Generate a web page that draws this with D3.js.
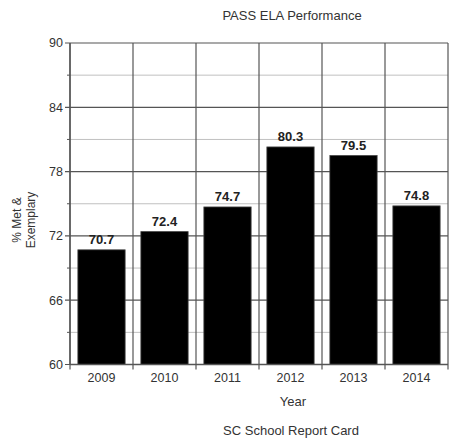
<!DOCTYPE html>
<html>
<head>
<meta charset="utf-8">
<script src="https://cdn.jsdelivr.net/npm/d3@7"></script>
<style>
	body { margin: 0; background: #fff; }
	text { font-family: "Liberation Sans", Arial, sans-serif; }
</style>
</head>
<body>
<script>
const years = ["2009", "2010", "2011", "2012", "2013", "2014"];
const scores = [70.7, 72.4, 74.7, 80.3, 79.5, 74.8];
const yTicks = [60, 66, 72, 78, 84, 90];
const yMinor = [63, 69, 75, 81, 87];

const svg = d3.select("body").append("svg")
	.attr("width", 449)
	.attr("height", 442);

const plotLeft = 70, plotRight = 448, plotTop = 43, plotBottom = 364.5;

const x = d3.scaleBand()
	.domain(years)
	.range([plotLeft, plotRight])
	.paddingInner(0.25)
	.paddingOuter(0.125);

const y = d3.scaleLinear()
	.domain([60, 90])
	.range([plotBottom, plotTop]);

const step = x.step();
const bounds = d3.range(years.length + 1).map(i => plotLeft + i * step);

// minor horizontal grid
svg.append("g").selectAll("line")
	.data(yMinor)
	.join("line")
	.attr("x1", plotLeft).attr("x2", plotRight)
	.attr("y1", d => y(d)).attr("y2", d => y(d))
	.attr("stroke", "#c0c0c0")
	.attr("stroke-width", 1);

// major horizontal grid
svg.append("g").selectAll("line")
	.data(yTicks)
	.join("line")
	.attr("x1", plotLeft - 5).attr("x2", plotRight)
	.attr("y1", d => y(d)).attr("y2", d => y(d))
	.attr("stroke", "#555")
	.attr("stroke-width", 1.2);

// minor ticks on y axis
svg.append("g").selectAll("line")
	.data(yMinor)
	.join("line")
	.attr("x1", plotLeft - 3).attr("x2", plotLeft)
	.attr("y1", d => y(d)).attr("y2", d => y(d))
	.attr("stroke", "#555");

// vertical grid at band boundaries
svg.append("g").selectAll("line")
	.data(bounds)
	.join("line")
	.attr("x1", d => d).attr("x2", d => d)
	.attr("y1", plotTop).attr("y2", plotBottom + 5)
	.attr("stroke", "#555")
	.attr("stroke-width", 1.2);

// bars
svg.append("g").selectAll("rect")
	.data(years)
	.join("rect")
	.attr("x", d => x(d))
	.attr("y", (d, i) => y(scores[i]))
	.attr("width", x.bandwidth())
	.attr("height", (d, i) => y(60) - y(scores[i]))
	.attr("fill", "#000")
	.attr("stroke", "#444")
	.attr("stroke-width", 0.8);

// value labels
svg.append("g").selectAll("text")
	.data(years)
	.join("text")
	.attr("x", d => x(d) + x.bandwidth() / 2)
	.attr("y", (d, i) => y(scores[i]) - 6)
	.attr("text-anchor", "middle")
	.attr("font-size", "13px")
	.attr("font-weight", "bold")
	.attr("fill", "#222")
	.text((d, i) => scores[i].toFixed(1));

// axis lines
svg.append("line")
	.attr("x1", plotLeft).attr("x2", plotLeft)
	.attr("y1", plotTop).attr("y2", plotBottom)
	.attr("stroke", "#555").attr("stroke-width", 1.4);
svg.append("line")
	.attr("x1", plotLeft).attr("x2", plotRight)
	.attr("y1", plotBottom).attr("y2", plotBottom)
	.attr("stroke", "#555").attr("stroke-width", 1.4);

// y tick labels
svg.append("g").selectAll("text")
	.data(yTicks)
	.join("text")
	.attr("x", plotLeft - 7)
	.attr("y", d => y(d))
	.attr("dy", "0.35em")
	.attr("text-anchor", "end")
	.attr("font-size", "12.5px")
	.attr("fill", "#333")
	.text(d => d);

// x tick labels
svg.append("g").selectAll("text")
	.data(years)
	.join("text")
	.attr("x", d => x(d) + x.bandwidth() / 2)
	.attr("y", plotBottom + 13)
	.attr("dy", "0.35em")
	.attr("text-anchor", "middle")
	.attr("font-size", "12.5px")
	.attr("fill", "#333")
	.text(d => d);

// titles
svg.append("text")
	.attr("x", 292).attr("y", 20)
	.attr("text-anchor", "middle")
	.attr("font-size", "13px")
	.attr("fill", "#333")
	.text("PASS ELA Performance");

svg.append("text")
	.attr("x", 293).attr("y", 405.5)
	.attr("text-anchor", "middle")
	.attr("font-size", "13px")
	.attr("fill", "#333")
	.text("Year");

svg.append("text")
	.attr("x", 291).attr("y", 435)
	.attr("text-anchor", "middle")
	.attr("font-size", "13px")
	.attr("fill", "#333")
	.text("SC School Report Card");

const yLabel = svg.append("text")
	.attr("transform", "translate(0,220) rotate(-90)")
	.attr("text-anchor", "middle")
	.attr("font-size", "12px")
	.attr("fill", "#333");
yLabel.append("tspan").attr("x", 0).attr("y", 21).text("% Met &");
yLabel.append("tspan").attr("x", 0).attr("y", 35).text("Exemplary");
</script>
</body>
</html>
